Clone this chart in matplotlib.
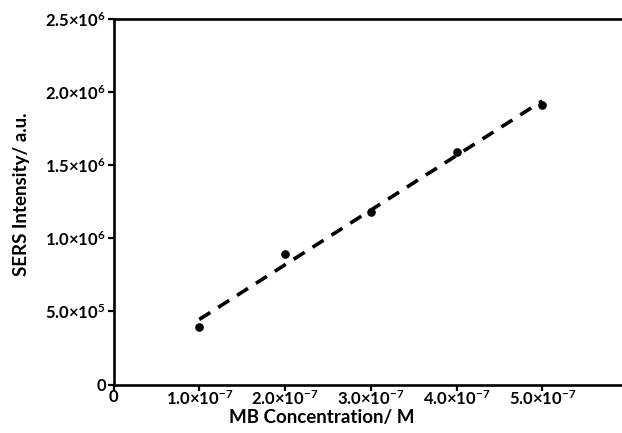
import matplotlib.pyplot as plt
import numpy as np

plt.rcParams['font.family'] = ['Lato', 'DejaVu Sans']
plt.rcParams['font.weight'] = 'bold'
plt.rcParams['mathtext.fontset'] = 'custom'
plt.rcParams['mathtext.bf'] = 'Lato:bold'
plt.rcParams['mathtext.rm'] = 'Lato:bold'
plt.rcParams['mathtext.default'] = 'bf'

# MB concentration (M) and SERS intensity (a.u.)
conc = np.array([1.0e-7, 2.0e-7, 3.0e-7, 4.0e-7, 5.0e-7])
intensity = np.array([3.9e5, 8.93e5, 1.18e6, 1.59e6, 1.91e6])

x_ticks = [0, 1e-7, 2e-7, 3e-7, 4e-7, 5e-7]
x_ticklabels = ['0', r'$1.0{\times}10^{-7}$', r'$2.0{\times}10^{-7}$', r'$3.0{\times}10^{-7}$',
                r'$4.0{\times}10^{-7}$', r'$5.0{\times}10^{-7}$']
y_ticks = [0, 5e5, 1e6, 1.5e6, 2e6, 2.5e6]
y_ticklabels = ['0', r'$5.0{\times}10^{5}$', r'$1.0{\times}10^{6}$', r'$1.5{\times}10^{6}$',
                r'$2.0{\times}10^{6}$', r'$2.5{\times}10^{6}$']

fig = plt.figure(figsize=(6.22, 4.33), dpi=100)
ax = fig.add_axes([0.1825, 0.112, 0.8175, 0.844])

# linear fit through the points
k, b = np.polyfit(conc, intensity, 1)
fit_x = np.array([conc[0], conc[-1]])
ax.plot(fit_x, k * fit_x + b, color='black', lw=2.6, linestyle=(0, (3.6, 2.6)))
ax.plot(conc, intensity, 'o', color='black', markersize=5.2)

ax.set_xlim(0, 5.93e-7)
ax.set_ylim(0, 2.5e6)
ax.set_xticks(x_ticks)
ax.set_xticklabels(x_ticklabels)
ax.set_yticks(y_ticks)
ax.set_yticklabels(y_ticklabels)

for side in ['left', 'bottom', 'top']:
    ax.spines[side].set_linewidth(1.9)
ax.spines['right'].set_visible(False)
ax.tick_params(axis='both', direction='out', length=4.5, width=1.6, labelsize=12)
ax.tick_params(axis='y', pad=1)
ax.tick_params(axis='x', pad=-1)

ax.set_xlabel('MB Concentration/ M', fontsize=13.5, fontweight='bold')
ax.set_ylabel('SERS Intensity/ a.u.', fontsize=13.5, fontweight='bold')
ax.xaxis.set_label_coords(0.409, -0.066)
ax.yaxis.set_label_coords(-0.164, 0.52)

fig.savefig('out.png', dpi=100)
